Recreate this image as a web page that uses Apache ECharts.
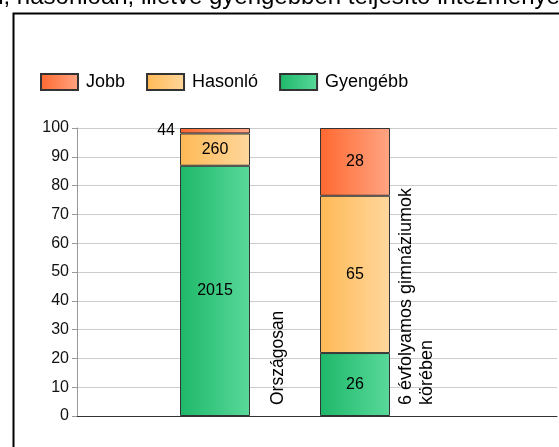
<!DOCTYPE html>
<html><head><meta charset="utf-8">
<script src="https://cdn.jsdelivr.net/npm/echarts@6/dist/echarts.min.js"></script>
<style>html,body{margin:0;padding:0;background:#fff}#c{width:559px;height:447px}</style>
</head><body><div id="c"></div>
<script>
// ---- data ----
const categories = ['Országosan', '6 évfolyamos gimnáziumok\nkörében'];
const jobb = [44, 28];
const hasonlo = [260, 65];
const gyengebb = [2015, 26];
const legendOrder = ['Jobb', 'Hasonló', 'Gyengébb'];
const yMin = 0, yMax = 100, yInterval = 10;
const titleText = 'Szignifikánsan jobban, hasonlóan, illetve gyengébben teljesítő intézmények aránya';

// ---- build ----
const FONT = "'Liberation Sans', Arial, sans-serif";
const totals = categories.map((c, i) => jobb[i] + hasonlo[i] + gyengebb[i]);
// 4 slots: bar slot + label slot for each category
const slotCats = [];
categories.forEach((c) => { slotCats.push(''); slotCats.push(c); });
// rich styles per category label (text sits right next to each bar)
const catRich = ['c0', 'c1'];
const catSpacer = ['s0', 's1'];
function catLabel(val) {
  const i = categories.indexOf(val);
  if (i < 0) return '';
  return val.split('\n').map(l => '{' + catRich[i] + '|' + l + '}').join('\n') + '\n{' + catSpacer[i] + '| }';
}
function slotData(counts, opts) {
  const out = [];
  counts.forEach((v, i) => {
    const item = { value: v / totals[i] * 100, count: v };
    if (opts && opts[i]) Object.assign(item, opts[i]);
    out.push(item);
    out.push('-');
  });
  return out;
}
function grad(c1, c2) {
  return new echarts.graphic.LinearGradient(0, 0, 1, 0, [
    { offset: 0, color: c1 }, { offset: 1, color: c2 }
  ]);
}
const colors = {
  'Jobb': grad('#FF6830', '#FFA583'),
  'Hasonló': grad('#FFB955', '#FFD79D'),
  'Gyengébb': grad('#1EB869', '#59D99A')
};
function mkSeries(name, counts, opts) {
  return {
    name, type: 'bar', stack: 'total', xAxisIndex: 1, yAxisIndex: 1,
    barWidth: 70,
    itemStyle: { color: colors[name], borderColor: '#333', borderWidth: 1 },
    label: {
      show: true, position: 'inside', color: '#000', fontFamily: FONT, fontSize: 16,
      formatter: p => p.data.count
    },
    emphasis: { disabled: true },
    data: slotData(counts, opts)
  };
}

const chart = echarts.init(document.getElementById('c'), null, { renderer: 'canvas' });
chart.setOption({
  animation: false,
  backgroundColor: '#fff',
  graphic: [
    { type: 'rect', left: 11, top: 11, shape: { x: 0, y: 0, width: 700, height: 600 },
      style: { fill: 'none', stroke: '#000', lineWidth: 2 }, z: -10 },
    { type: 'text', x: -230, y: -3,
      style: { text: titleText, font: "24px 'Liberation Sans', Arial, sans-serif", fill: '#000',
        verticalAlign: 'middle' } }
  ],
  legend: {
    data: legendOrder, left: 40, top: 73, padding: 0, icon: 'rect', itemWidth: 37, itemHeight: 16, itemGap: 21,
    textStyle: { fontFamily: FONT, fontSize: 18, color: '#000', padding: [0, 0, 0, 3] },
    selectedMode: false
  },
  grid: [
    { left: 77, top: 128, width: 480, height: 288, containLabel: false, outerBoundsMode: 'none' },
    { left: 180, top: 128, width: 280, height: 288, containLabel: false, outerBoundsMode: 'none' }
  ],
  xAxis: [
    { type: 'category', gridIndex: 0, data: [''], axisTick: { show: false }, axisLabel: { show: false },
      axisLine: { lineStyle: { color: '#333', width: 1 } }, splitLine: { show: false } },
    { type: 'category', gridIndex: 1, data: slotCats,
      axisLine: { show: false }, axisTick: { show: false }, splitLine: { show: false },
      axisLabel: { interval: 0, rotate: 90, inside: true, margin: 11, align: 'left', verticalAlign: 'middle',
        color: '#000', fontFamily: FONT, fontSize: 17.5, hideOverlap: false,
        formatter: catLabel,
        rich: {
          c0: { fontFamily: FONT, fontSize: 17.5, lineHeight: 18, color: '#000' },
          c1: { fontFamily: FONT, fontSize: 18, lineHeight: 21, color: '#000' },
          s0: { fontSize: 1, lineHeight: 14 },
          s1: { fontSize: 1, lineHeight: 16 }
        } } }
  ],
  yAxis: [
    { type: 'value', gridIndex: 0, min: yMin, max: yMax, interval: yInterval,
      axisLine: { show: true, lineStyle: { color: '#999' } },
      axisTick: { show: true, length: 5, lineStyle: { color: '#999' } },
      axisLabel: { margin: 8, color: '#111', fontFamily: FONT, fontSize: 16 },
      splitLine: { show: true, lineStyle: { color: '#ccc', width: 1 } } },
    { type: 'value', gridIndex: 1, min: yMin, max: yMax, interval: yInterval, show: false,
      splitLine: { show: false } }
  ],
  series: [
    mkSeries('Gyengébb', gyengebb),
    mkSeries('Hasonló', hasonlo),
    mkSeries('Jobb', jobb, [{ label: { position: 'left', distance: 5 } }, null])
  ]
});
</script></body></html>
